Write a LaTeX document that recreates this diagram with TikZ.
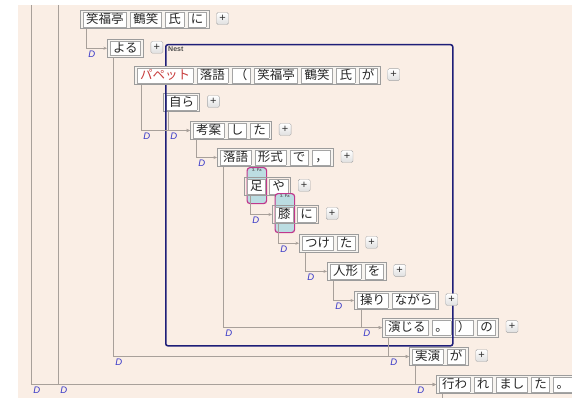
\documentclass[tikz,border=0pt]{standalone}
\usepackage{fontspec}
\usepackage{tikz}
\usetikzlibrary{positioning,arrows.meta}
\newfontfamily\jpfont{Noto Sans CJK JP}
\newfontfamily\dfont{Liberation Sans}
\definecolor{pagebg}{RGB}{250,238,229}
\definecolor{boxfill}{RGB}{247,244,240}
\definecolor{boxline}{RGB}{156,156,156}
\definecolor{chunkline}{RGB}{165,165,165}
\definecolor{depline}{RGB}{168,160,154}
\definecolor{dblue}{RGB}{58,58,200}
\definecolor{navy}{RGB}{30,30,120}
\definecolor{famag}{RGB}{192,56,140}
\definecolor{fablue}{RGB}{188,221,226}
\definecolor{kred}{RGB}{200,60,60}
\setlength{\fboxsep}{1.2pt}
\setlength{\fboxrule}{0.5pt}
\newcommand{\jchunk}[1]{\fcolorbox{chunkline}{white}{\hspace{1.5pt}\rule[-2pt]{0pt}{12pt}#1\hspace{1.5pt}}}
\newcommand{\jgap}{\hspace{3.5pt}}

\begin{document}
\begin{tikzpicture}[x=1pt, y=-1pt,
	ph/.style={draw=boxline, fill=boxfill, line width=0.7pt, inner xsep=2.5pt, inner ysep=1.2pt, anchor=north west, text=black!85, font=\jpfont\fontsize{12.5}{14}\selectfont},
	pb/.style={draw=gray!70, rounded corners=1.5pt, top color=white, bottom color=gray!25, minimum size=12pt, inner sep=0pt, font=\dfont\fontsize{11}{11}\selectfont, text=gray!40!black},
	dep/.style={draw=depline, line width=0.6pt, -{Stealth[length=3.5pt,width=3pt]}},
	dl/.style={pos=0.5, anchor=north west, inner sep=1pt, xshift=1pt, yshift=-1pt, text=dblue, font=\dfont\itshape\fontsize{9.5}{9.5}\selectfont},
	fa/.style={draw=famag, fill=fablue, line width=1.2pt, rounded corners=3pt, minimum width=19.5pt, minimum height=36pt, anchor=north west, inner sep=0pt},
	falab/.style={anchor=north, inner sep=0pt, yshift=-1.5pt, font=\dfont\bfseries\fontsize{4}{4}\selectfont, text=gray!70!black}]
	\useasboundingbox (0,0) rectangle (572,398);
	\fill[pagebg] (18,5) rectangle (572,398);
	\node[ph] (w4) at (163,93) {\jchunk{自ら}};
	\node[ph] (w12) at (382,318) {\jchunk{演じる}\jgap\jchunk{。}\jgap\jchunk{）}\jgap\jchunk{の}};
	\node[draw=navy, line width=1.5pt, rounded corners=2pt, minimum width=287pt, minimum height=301pt, anchor=north west] (nest) at (165,44) {};
	\node[anchor=north west, inner sep=0pt, text=gray!60!black, font=\dfont\bfseries\fontsize{7}{7}\selectfont] (nestlab) at (168,46) {Nest};
	\node[ph] (w1) at (80,10) {\jchunk{笑福亭}\jgap\jchunk{鶴笑}\jgap\jchunk{氏}\jgap\jchunk{に}};
	\node[ph] (w2) at (107,39) {\jchunk{よる}};
	\node[ph] (w3) at (134,66) {\jchunk{\color{kred}パペット}\jgap\jchunk{落語}\jgap\jchunk{（}\jgap\jchunk{笑福亭}\jgap\jchunk{鶴笑}\jgap\jchunk{氏}\jgap\jchunk{が}};
	\node[ph] (w5) at (190,121) {\jchunk{考案}\jgap\jchunk{し}\jgap\jchunk{た}};
	\node[ph] (w6) at (217,148) {\jchunk{落語}\jgap\jchunk{形式}\jgap\jchunk{で}\jgap\jchunk{，}};
	\node[fa] (fa1) at (246.5,167) {};
	\node[falab] (fa1lab) at (fa1.north) {3. Fa};
	\node[ph, fill=none] (w7) at (244,177) {\jchunk{足}\jgap\jchunk{や}};
	\node[fa, minimum height=39pt] (fa2) at (274.5,193) {};
	\node[falab] (fa2lab) at (fa2.north) {3. Fa};
	\node[ph, fill=none] (w8) at (272,205) {\jchunk{膝}\jgap\jchunk{に}};
	\node[ph] (w9) at (299,234) {\jchunk{つけ}\jgap\jchunk{た}};
	\node[ph] (w10) at (327,262) {\jchunk{人形}\jgap\jchunk{を}};
	\node[ph] (w11) at (354,291) {\jchunk{操り}\jgap\jchunk{ながら}};
	\node[ph] (w13) at (409,347) {\jchunk{実演}\jgap\jchunk{が}};
	\node[ph] (w14) at (436,375) {\jchunk{行わ}\jgap\jchunk{れ}\jgap\jchunk{まし}\jgap\jchunk{た}\jgap\jchunk{。}};
	\node[pb, right=7pt of w1, yshift=1pt] (p1) {+};
	\node[pb, right=7pt of w2, yshift=1pt] (p2) {+};
	\node[pb, right=7pt of w3, yshift=1pt] (p3) {+};
	\node[pb, right=7pt of w4, yshift=1pt] (p4) {+};
	\node[pb, right=7pt of w5, yshift=1pt] (p5) {+};
	\node[pb, right=7pt of w6, yshift=1pt] (p6) {+};
	\node[pb, right=7pt of w7, yshift=1pt] (p7) {+};
	\node[pb, right=7pt of w8, yshift=1pt] (p8) {+};
	\node[pb, right=7pt of w9, yshift=1pt] (p9) {+};
	\node[pb, right=7pt of w10, yshift=1pt] (p10) {+};
	\node[pb, right=7pt of w11, yshift=1pt] (p11) {+};
	\node[pb, right=7pt of w12, yshift=1pt] (p12) {+};
	\node[pb, right=7pt of w13, yshift=1pt] (p13) {+};
	\coordinate (top1) at (31,5);
	\coordinate (top2) at (58,5);
	\coordinate (w14tail) at (442,398);
	\draw[dep] ([xshift=6pt]w1.south west) |- (w2.west) node[dl] (d1) {D};
	\draw[dep] ([xshift=7pt]w3.south west) |- (w5.west) node[dl] (d2) {D};
	\draw[dep] ([xshift=5pt]w4.south west) |- (w5.west) node[dl] (d3) {D};
	\draw[dep] ([xshift=6pt]w5.south west) |- (w6.west) node[dl] (d4) {D};
	\draw[dep] ([xshift=6pt]w7.south west) |- (w8.west) node[dl] (d5) {D};
	\draw[dep] ([xshift=6pt]w8.south west) |- (w9.west) node[dl] (d6) {D};
	\draw[dep] ([xshift=6pt]w9.south west) |- (w10.west) node[dl] (d7) {D};
	\draw[dep] ([xshift=6pt]w10.south west) |- (w11.west) node[dl] (d8) {D};
	\draw[dep] ([xshift=6pt]w6.south west) |- (w12.west) node[dl] (d9) {D};
	\draw[dep] ([xshift=7pt]w11.south west) |- (w12.west) node[dl] (d10) {D};
	\draw[dep] ([xshift=6pt]w2.south west) |- (w13.west) node[dl] (d11) {D};
	\draw[dep] ([xshift=6pt]w12.south west) |- (w13.west) node[dl] (d12) {D};
	\draw[dep] ([xshift=6pt]w13.south west) |- (w14.west) node[dl] (d13) {D};
	\draw[dep] (top1) |- (w14.west) node[dl] (d14) {D};
	\draw[dep] (top2) |- (w14.west) node[dl] (d15) {D};
	\draw[draw=depline, line width=0.6pt] ([xshift=6pt]w14.south west) -- (w14tail);
\end{tikzpicture}
\end{document}
